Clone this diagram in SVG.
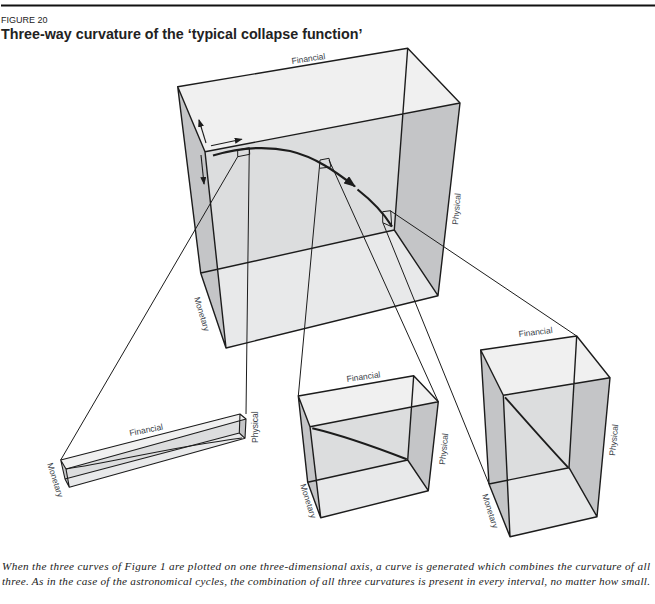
<svg xmlns="http://www.w3.org/2000/svg" width="655" height="604" viewBox="0 0 655 604">
<style>
text{font-family:"Liberation Sans",Arial,sans-serif;fill:#222}
.lab{font-size:8.5px;fill:#3a3f4a}
.e{fill:none;stroke:#1c1c1c;stroke-width:1.4;stroke-linejoin:round}
.e2{fill:none;stroke:#1c1c1c;stroke-width:1.1;stroke-linejoin:round}
.thin{fill:none;stroke:#1c1c1c;stroke-width:1}
.arr{fill:none;stroke:#1c1c1c;stroke-width:1.1}
.wall{fill:#dcddde;stroke:none}
.top{fill:#f0f0f0;stroke:none}
.floor{fill:#e8e9ea;stroke:none}
.side{fill:#c4c5c7;stroke:none}
.curve{fill:none;stroke:#1c1c1c;stroke-width:2.2}
.curve-s{fill:none;stroke:#1c1c1c;stroke-width:1.8}
.curve-t{fill:none;stroke:#1c1c1c;stroke-width:1.1}
.cap{font-family:"Liberation Serif","Times New Roman",serif;font-style:italic;font-size:11.2px}
</style>
<defs>
<marker id="ah" markerWidth="9" markerHeight="7" refX="7" refY="3" orient="auto" markerUnits="userSpaceOnUse"><path d="M0 0L8 3L0 6Z" fill="#1c1c1c"/></marker>
<marker id="big" markerWidth="13" markerHeight="9" refX="11" refY="4.500" orient="auto" markerUnits="userSpaceOnUse"><path d="M0 0L12 4.500L0 9Z" fill="#1c1c1c"/></marker>
</defs>
<rect width="655" height="604" fill="#fff"/>
<rect x="1" y="4.500" width="654" height="2" fill="#111"/>
<text x="1" y="23" font-size="9">FIGURE 20</text>
<text x="1" y="39" font-size="14.300" font-weight="700" fill="#111">Three-way curvature of the ‘typical collapse function’</text>

<g id="box-main">
<polygon class="wall" points="177.700,86.700 407.700,48.300 394.300,230 200.700,273"/>
<polygon class="floor" points="200.700,273 394.300,230 438,295.700 226,348"/>
<polygon class="side" points="177.700,86.700 205,151.700 226,348 200.700,273"/>
<polygon class="side" points="407.700,48.300 460,103 438,295.700 394.300,230"/>
<polygon class="top" points="177.700,86.700 407.700,48.300 460,103 205,151.700"/>
<path class="e" d="M177.700 86.700L407.700 48.300L460 103L205 151.700ZM205 151.700L226 348L438 295.700L460 103M177.700 86.700L200.700 273L226 348M200.700 273L394.300 230L438 295.700M407.700 48.300L394.300 230"/>
<path class="curve" d="M213 155.500C235 149 262 145 290 151C315 157 335 171 355 186.500" marker-end="url(#big)"/>
<path class="curve" d="M357.500 189.500C371 200 383 212 392 226.500"/>
<path class="arr" d="M206 143L199 120" marker-end="url(#ah)"/>
<path class="arr" d="M211 145.700L241.700 139.300" marker-end="url(#ah)"/>
<path class="arr" d="M201 155L204 184" marker-end="url(#ah)"/>
<text class="lab" transform="translate(292 64) rotate(-8.500)">Financial</text>
<text class="lab" transform="translate(458 225) rotate(-85)">Physical</text>
<text class="lab" transform="translate(194 298) rotate(73)">Monetary</text>
</g>

<g id="box-bar">
<polygon class="wall" points="60.700,460 240,414 239.300,433 65,479"/>
<polygon class="floor" points="65,479 239.300,433 245,438.300 69.300,487.300"/>
<polygon class="side" points="60.700,460 66,469 69.300,487.300 65,479"/>
<polygon class="side" points="240,414 246,419 245,438.300 239.300,433"/>
<polygon class="top" points="60.700,460 240,414 246,419 66,469"/>
<path class="e2" d="M60.700 460L240 414L246 419L66 469ZM66 469L69.300 487.300L245 438.300L246 419M60.700 460L65 479L69.300 487.300M65 479L239.300 433L245 438.300M240 414L239.300 433"/>
<path class="curve-t" d="M66 469C115 462 165 448 242 438"/>
<text class="lab" transform="translate(130 436) rotate(-11)">Financial</text>
<text class="lab" transform="translate(258 443) rotate(-90)">Physical</text>
<text class="lab" transform="translate(47 464) rotate(72)">Monetary</text>
</g>

<g id="box-mid">
<polygon class="wall" points="298.300,396 413.700,375.700 407.700,460 307.700,482.300"/>
<polygon class="floor" points="307.700,482.300 407.700,460 428.300,490.700 320.700,517.700"/>
<polygon class="side" points="298.300,396 310,426.700 320.700,517.700 307.700,482.300"/>
<polygon class="side" points="413.700,375.700 438.300,401.700 428.300,490.700 407.700,460"/>
<polygon class="top" points="298.300,396 413.700,375.700 438.300,401.700 310,426.700"/>
<path class="e" d="M298.300 396L413.700 375.700L438.300 401.700L310 426.700ZM310 426.700L320.700 517.700L428.300 490.700L438.300 401.700M298.300 396L307.700 482.300L320.700 517.700M307.700 482.300L407.700 460L428.300 490.700M413.700 375.700L407.700 460"/>
<path class="curve" d="M312.300 428.300C345 436 375 447 406.700 459.300"/>
<text class="lab" transform="translate(347 382) rotate(-8)">Financial</text>
<text class="lab" transform="translate(445 465) rotate(-84)">Physical</text>
<text class="lab" transform="translate(300 485) rotate(72)">Monetary</text>
</g>

<g id="box-tall">
<polygon class="wall" points="480.700,350 576.700,336 569,467.700 489,484"/>
<polygon class="floor" points="489,484 569,467.700 597,516.700 510,536.700"/>
<polygon class="side" points="480.700,350 503.300,395.300 510,536.700 489,484"/>
<polygon class="side" points="576.700,336 610,377.700 597,516.700 569,467.700"/>
<polygon class="top" points="480.700,350 576.700,336 610,377.700 503.300,395.300"/>
<path class="e" d="M480.700 350L576.700 336L610 377.700L503.300 395.300ZM503.300 395.300L510 536.700L597 516.700L610 377.700M480.700 350L489 484L510 536.700M489 484L569 467.700L597 516.700M576.700 336L569 467.700"/>
<path class="curve-s" d="M505 397.300C525 420 547 445 568.300 467.700"/>
<text class="lab" transform="translate(519 337) rotate(-7)">Financial</text>
<text class="lab" transform="translate(615 456) rotate(-84)">Physical</text>
<text class="lab" transform="translate(482 495) rotate(72)">Monetary</text>
</g>

<g id="connectors">
<path class="thin" d="M237.700 150L249.300 147.700L249.700 154.300L237.700 156.700ZM237.700 156.700L60.700 460M249.300 147.700L246 414"/>
<path class="thin" d="M320 160L329 158.300L331 167L319.300 168.300ZM319.300 168.300L298.300 396M329 160L438.300 401.700"/>
<path class="thin" d="M382.700 211.700L390.700 210.700L391.700 226.700L382.700 222.700ZM390.700 211L576.700 336M383 223L489 484"/>
</g>

<text class="cap" x="2" y="570" textLength="648" lengthAdjust="spacing">When the three curves of Figure 1 are plotted on one three-dimensional axis, a curve is generated which combines the curvature of all</text>
<text class="cap" x="2" y="584.500" textLength="648" lengthAdjust="spacing">three. As in the case of the astronomical cycles, the combination of all three curvatures is present in every interval, no matter how small.</text>
</svg>
